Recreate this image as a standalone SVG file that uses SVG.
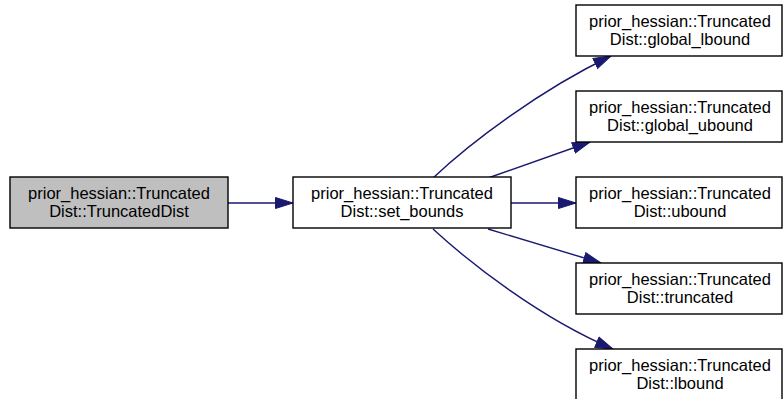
<svg xmlns="http://www.w3.org/2000/svg" width="784" height="399" viewBox="0 0 784 399">
<defs>
<marker id="arr" markerWidth="19" markerHeight="13" refX="18" refY="6.5" orient="auto" markerUnits="userSpaceOnUse">
<polygon points="0.5,1 18,6.5 0.5,12" fill="#191970" stroke="#191970" stroke-width="1"/>
</marker>
</defs>
<style>
.node rect{stroke:#000;stroke-width:1.4;fill:#fff}
.node.sel rect{fill:#bfbfbf}
.node text{font-family:"Liberation Sans",Arial,sans-serif;font-size:16.5px;text-anchor:middle;fill:#000}
.edge{fill:none;stroke:#191970;stroke-width:1.4;marker-end:url(#arr)}
</style>
<rect width="784" height="399" fill="#fff"/>
<g id="edges">
<path class="edge" d="M228,203 L293,203"/>
<path class="edge" d="M511,203 L576,203"/>
<path class="edge" d="M433,178 C470,143 540,90 611,56"/>
<path class="edge" d="M488,178 L590,142"/>
<path class="edge" d="M488,229 L601,263"/>
<path class="edge" d="M433,229 C470,263 540,318 613,349"/>
</g>
<g id="n_TruncatedDist" class="node sel">
<rect x="10" y="177" width="218" height="51"/>
<text x="119" y="199">prior_hessian::Truncated</text>
<text x="119" y="217">Dist::TruncatedDist</text>
</g>
<g id="n_set_bounds" class="node">
<rect x="293" y="177" width="218" height="51"/>
<text x="402" y="199">prior_hessian::Truncated</text>
<text x="402" y="217">Dist::set_bounds</text>
</g>
<g id="n_global_lbound" class="node">
<rect x="576" y="5" width="206" height="51"/>
<text x="680" y="27">prior_hessian::Truncated</text>
<text x="680" y="45">Dist::global_lbound</text>
</g>
<g id="n_global_ubound" class="node">
<rect x="576" y="91" width="206" height="51"/>
<text x="680" y="113">prior_hessian::Truncated</text>
<text x="680" y="131">Dist::global_ubound</text>
</g>
<g id="n_ubound" class="node">
<rect x="576" y="177" width="206" height="51"/>
<text x="680" y="199">prior_hessian::Truncated</text>
<text x="680" y="217">Dist::ubound</text>
</g>
<g id="n_truncated" class="node">
<rect x="576" y="263" width="206" height="51"/>
<text x="680" y="285">prior_hessian::Truncated</text>
<text x="680" y="303">Dist::truncated</text>
</g>
<g id="n_lbound" class="node">
<rect x="576" y="349" width="206" height="51"/>
<text x="680" y="371">prior_hessian::Truncated</text>
<text x="680" y="389">Dist::lbound</text>
</g>
</svg>
